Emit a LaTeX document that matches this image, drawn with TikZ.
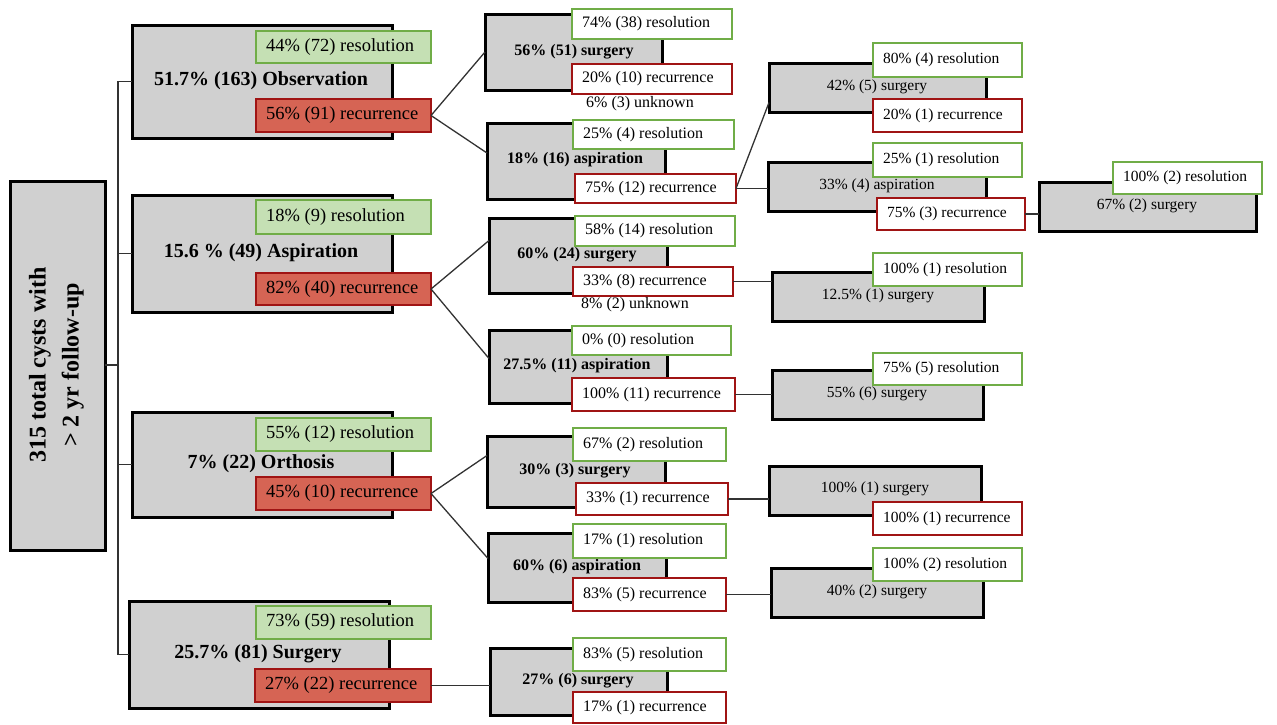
\documentclass[tikz,border=0pt]{standalone}
\usepackage{fontspec}
\setmainfont{Liberation Serif}
\definecolor{boxgray}{RGB}{208,208,208}
\definecolor{gfill}{RGB}{197,224,180}
\definecolor{gline}{RGB}{112,173,71}
\definecolor{rfill}{RGB}{214,100,84}
\definecolor{rline}{RGB}{160,20,20}
\definecolor{conncol}{RGB}{50,50,50}
\tikzset{
 graybox/.style={draw=black, fill=boxgray, line width=3pt, inner sep=0pt, outer sep=0pt},
 gfilled/.style={draw=gline, fill=gfill, line width=2.5pt, inner sep=0pt, outer sep=0pt},
 rfilled/.style={draw=rline, fill=rfill, line width=2.5pt, inner sep=0pt, outer sep=0pt},
 gwhite/.style={draw=gline, fill=white, line width=2.5pt, inner sep=0pt, outer sep=0pt},
 rwhite/.style={draw=rline, fill=white, line width=2.5pt, inner sep=0pt, outer sep=0pt},
 fa/.style={font=\fontsize{20}{24}\selectfont\bfseries, inner sep=0pt},
 fb/.style={font=\fontsize{18.5}{22}\selectfont, inner sep=0pt},
 fc/.style={font=\fontsize{16}{19}\selectfont\bfseries, inner sep=0pt},
 fd/.style={font=\fontsize{16}{19}\selectfont, inner sep=0pt},
 fe/.style={font=\fontsize{15.5}{19}\selectfont, inner sep=0pt},
 conn/.style={draw=conncol, line width=1.3pt},
}
\newcommand\gbx[6]{\node[#2,anchor=north west,minimum width=#5pt,minimum height=#6pt] (#1) at (#3,#4) {};}
\newcommand\lbx[8]{\node[#2,anchor=north west,minimum width=#5pt,minimum height=#6pt] (#1) at (#3,#4) {};
 \node[#7,anchor=west] (#1t) at ([xshift=10pt]#1.west) {#8};}
\begin{document}
\begin{tikzpicture}[x=1pt,y=-1pt]
\useasboundingbox (0,0) rectangle (1277,724);
% root
\gbx{root}{graybox}{10}{181}{95}{369}
\node[font=\fontsize{24}{33}\selectfont\bfseries, rotate=90, align=center, inner sep=0pt] (roott) at (56.5,365) {315 total cysts with\\ > 2 yr follow-up};
\coordinate (tr) at (118,365);
% level 1
\gbx{obs}{graybox}{132}{25}{260}{113}
\node[fa] (obsl) at (261,81) {51.7\% (163) Observation};
\lbx{obsG}{gfilled}{256}{31}{175}{32}{fb}{44\% (72) resolution}
\lbx{obsR}{rfilled}{256}{99}{175}{33}{fb}{56\% (91) recurrence}
\gbx{asp}{graybox}{132}{195}{260}{117}
\node[fa] (aspl) at (261,253) {15.6 \% (49) Aspiration};
\lbx{aspG}{gfilled}{256}{200}{175}{34}{fb}{18\% (9) resolution}
\lbx{aspR}{rfilled}{256}{273}{175}{32}{fb}{82\% (40) recurrence}
\gbx{ort}{graybox}{132}{412}{260}{105}
\node[fa] (ortl) at (261,464) {7\% (22) Orthosis};
\lbx{ortG}{gfilled}{256}{418}{175}{33}{fb}{55\% (12) resolution}
\lbx{ortR}{rfilled}{256}{477}{175}{33}{fb}{45\% (10) recurrence}
\gbx{sur}{graybox}{129}{601}{260}{107}
\node[fa] (surl) at (258,654) {25.7\% (81) Surgery};
\lbx{surG}{gfilled}{256}{606}{175}{33}{fb}{73\% (59) resolution}
\lbx{surR}{rfilled}{255}{669}{176}{33}{fb}{27\% (22) recurrence}
% level 2
\gbx{a1}{graybox}{485}{14}{177}{76}
\node[fc] (a1l) at (574,52) {56\% (51) surgery};
\lbx{a1G}{gwhite}{572}{9}{160}{30}{fd}{74\% (38) resolution}
\lbx{a1R}{rwhite}{572}{64}{160}{30}{fd}{20\% (10) recurrence}
\node[fd] (a1u) at (640,104) {6\% (3) unknown};
\gbx{a2}{graybox}{487}{123}{178}{76}
\node[fc] (a2l) at (575,160) {18\% (16) aspiration};
\lbx{a2G}{gwhite}{573}{120}{161}{29}{fd}{25\% (4) resolution}
\lbx{a2R}{rwhite}{575}{174}{161}{29}{fd}{75\% (12) recurrence}
\gbx{b1}{graybox}{489}{218}{178}{75}
\node[fc] (b1l) at (577,255) {60\% (24) surgery};
\lbx{b1G}{gwhite}{575}{216}{160}{30}{fd}{58\% (14) resolution}
\lbx{b1R}{rwhite}{573}{267}{160}{29}{fd}{33\% (8) recurrence}
\node[fd] (b1u) at (635,305) {8\% (2) unknown};
\gbx{b2}{graybox}{489}{330}{178}{73}
\node[fc] (b2l) at (577,366) {27.5\% (11) aspiration};
\lbx{b2G}{gwhite}{572}{326}{159}{29}{fd}{0\% (0) resolution}
\lbx{b2R}{rwhite}{572}{378}{163}{33}{fd}{100\% (11) recurrence}
\gbx{c1}{graybox}{487}{436}{178}{71}
\node[fc] (c1l) at (575,471) {30\% (3) surgery};
\lbx{c1G}{gwhite}{573}{428}{153}{33}{fd}{67\% (2) resolution}
\lbx{c1R}{rwhite}{576}{483}{152}{32}{fd}{33\% (1) recurrence}
\gbx{c2}{graybox}{488}{533}{178}{69}
\node[fc] (c2l) at (577,567) {60\% (6) aspiration};
\lbx{c2G}{gwhite}{573}{524}{153}{34}{fd}{17\% (1) resolution}
\lbx{c2R}{rwhite}{573}{578}{153}{33}{fd}{83\% (5) recurrence}
\gbx{d1}{graybox}{490}{648}{177}{67}
\node[fc] (d1l) at (578,681) {27\% (6) surgery};
\lbx{d1G}{gwhite}{573}{638}{153}{33}{fd}{83\% (5) resolution}
\lbx{d1R}{rwhite}{573}{692}{153}{31}{fd}{17\% (1) recurrence}
% level 3
\gbx{e1}{graybox}{769}{63}{217}{49}
\node[fe] (e1l) at (877,87) {42\% (5) surgery};
\lbx{e1G}{gwhite}{873}{43}{149}{34}{fe}{80\% (4) resolution}
\lbx{e1R}{rwhite}{873}{99}{149}{33}{fe}{20\% (1) recurrence}
\gbx{e2}{graybox}{768}{162}{218}{49}
\node[fe] (e2l) at (877,186) {33\% (4) aspiration};
\lbx{e2G}{gwhite}{873}{143}{149}{34}{fe}{25\% (1) resolution}
\lbx{e2R}{rwhite}{877}{198}{148}{32}{fe}{75\% (3) recurrence}
\gbx{e3}{graybox}{1039}{182}{217}{49}
\node[fe] (e3l) at (1147,206) {67\% (2) surgery};
\lbx{e3G}{gwhite}{1113}{162}{149}{32}{fe}{100\% (2) resolution}
\gbx{f1}{graybox}{772}{272}{212}{49}
\node[fe] (f1l) at (878,296) {12.5\% (1) surgery};
\lbx{f1G}{gwhite}{873}{253}{149}{33}{fe}{100\% (1) resolution}
\gbx{g1}{graybox}{772}{370}{211}{49}
\node[fe] (g1l) at (877,394) {55\% (6) surgery};
\lbx{g1G}{gwhite}{873}{353}{149}{32}{fe}{75\% (5) resolution}
\gbx{h1}{graybox}{769}{466}{212}{49}
\node[fe] (h1l) at (875,489) {100\% (1) surgery};
\lbx{h1R}{rwhite}{873}{502}{149}{33}{fe}{100\% (1) recurrence}
\gbx{i1}{graybox}{771}{568}{212}{49}
\node[fe] (i1l) at (877,592) {40\% (2) surgery};
\lbx{i1G}{gwhite}{873}{548}{149}{33}{fe}{100\% (2) resolution}
% connectors
\draw[conn] (root.east |- tr) -- (tr);
\draw[conn] (obs.west) -| (tr) |- (sur.west);
\draw[conn] (asp.west) -- (asp.west -| tr);
\draw[conn] (ort.west) -- (ort.west -| tr);
\draw[conn] (obsR.east) -- (a1.west);
\draw[conn] (obsR.east) -- ([yshift=8pt]a2.west);
\draw[conn] (aspR.east) -- ([yshift=15pt]b1.west);
\draw[conn] (aspR.east) -- ([yshift=8pt]b2.west);
\draw[conn] (ortR.east) -- ([yshift=16pt]c1.west);
\draw[conn] (ortR.east) -- ([yshift=9pt]c2.west);
\draw[conn] (surR.east) -- (surR.east -| d1.west);
\draw[conn] (a2R.east) -- ([yshift=-15pt]e1.west);
\draw[conn] (a2R.east) -- (a2R.east -| e2.west);
\draw[conn] (b1R.east) -- (b1R.east -| f1.west);
\draw[conn] (b2R.east) -- (b2R.east -| g1.west);
\draw[conn] (c1R.east) -- (c1R.east -| h1.west);
\draw[conn] (c2R.east) -- (c2R.east -| i1.west);
\draw[conn] (e2R.east) -- (e2R.east -| e3.west);
\end{tikzpicture}
\end{document}
